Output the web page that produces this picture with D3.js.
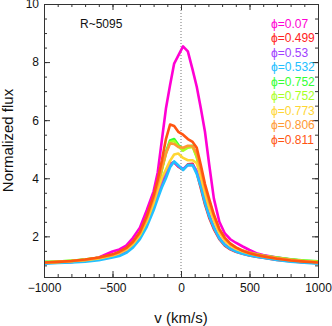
<!DOCTYPE html>
<html>
<head>
<meta charset="utf-8">
<script src="https://cdn.jsdelivr.net/npm/d3@7"></script>
<style>
  body { margin: 0; background: #fff; }
  svg { display: block; font-family: "Liberation Sans", Arial, sans-serif; }
</style>
</head>
<body>
<div id="chart"></div>
<script>
// velocity grid (km/s)
var velocity = [-1000, -900, -800, -700, -600, -500, -450, -400, -350, -300,
  -250, -200, -170, -140, -110, -80, -50, -20, 15, 50,
  85, 115, 145, 175, 205, 240, 280, 320, 360, 400,
  450, 500, 550, 600, 700, 800, 900, 1000];

// normalized flux per phase
var flux007 = [1.08, 1.10, 1.13, 1.18, 1.27, 1.48, 1.55, 1.68, 1.95, 2.30,
  2.90, 3.55, 4.20, 5.30, 6.40, 7.20, 7.95, 8.22, 8.54, 8.37,
  7.73, 7.15, 6.40, 5.60, 4.50, 3.30, 2.50, 2.10, 1.90, 1.78,
  1.65, 1.53, 1.42, 1.36, 1.27, 1.20, 1.15, 1.12];
var flux0499 = [1.08, 1.10, 1.12, 1.16, 1.21, 1.31, 1.38, 1.50, 1.70, 2.00,
  2.45, 3.05, 3.45, 3.85, 4.15, 4.50, 4.55, 4.40, 4.30, 4.48,
  4.50, 4.20, 3.65, 3.10, 2.65, 2.25, 1.90, 1.68, 1.55, 1.47,
  1.40, 1.34, 1.30, 1.26, 1.19, 1.14, 1.10, 1.08];
var flux053 = [1.08, 1.10, 1.12, 1.16, 1.22, 1.33, 1.40, 1.52, 1.72, 2.02,
  2.48, 3.08, 3.50, 3.90, 4.20, 4.48, 4.55, 4.42, 4.32, 4.45,
  4.46, 4.25, 3.80, 3.25, 2.75, 2.32, 1.95, 1.72, 1.58, 1.49,
  1.42, 1.36, 1.31, 1.27, 1.20, 1.15, 1.11, 1.08];
var flux0532 = [1.06, 1.08, 1.10, 1.13, 1.18, 1.27, 1.32, 1.43, 1.62, 1.90,
  2.33, 2.90, 3.30, 3.68, 4.00, 4.38, 4.58, 4.45, 4.28, 4.46,
  4.45, 4.15, 3.70, 3.15, 2.70, 2.30, 1.93, 1.70, 1.57, 1.48,
  1.40, 1.34, 1.30, 1.26, 1.19, 1.13, 1.09, 1.06];
var flux0752a = [1.12, 1.13, 1.16, 1.20, 1.26, 1.36, 1.44, 1.56, 1.76, 2.05,
  2.55, 3.20, 3.70, 4.30, 4.90, 5.30, 5.35, 5.15, 5.00, 5.10,
  5.12, 4.75, 4.20, 3.65, 3.15, 2.65, 2.20, 1.90, 1.72, 1.60,
  1.50, 1.43, 1.38, 1.33, 1.27, 1.21, 1.17, 1.14];
var flux0752b = [1.11, 1.13, 1.16, 1.20, 1.26, 1.36, 1.44, 1.56, 1.76, 2.06,
  2.56, 3.22, 3.70, 4.28, 4.85, 5.25, 5.28, 5.10, 4.95, 5.05,
  5.08, 4.72, 4.18, 3.62, 3.12, 2.62, 2.18, 1.90, 1.72, 1.60,
  1.50, 1.43, 1.38, 1.33, 1.26, 1.20, 1.16, 1.13];
var flux0773 = [1.09, 1.11, 1.14, 1.18, 1.24, 1.34, 1.42, 1.54, 1.74, 2.05,
  2.52, 3.15, 3.60, 4.00, 4.30, 4.60, 4.82, 4.85, 4.70, 4.62,
  4.62, 4.52, 4.05, 3.50, 3.00, 2.55, 2.12, 1.85, 1.68, 1.57,
  1.48, 1.41, 1.36, 1.31, 1.24, 1.18, 1.14, 1.11];
var flux0806 = [1.10, 1.12, 1.15, 1.19, 1.26, 1.36, 1.45, 1.58, 1.79, 2.10,
  2.62, 3.30, 3.80, 4.35, 4.85, 5.20, 5.18, 5.08, 5.05, 5.12,
  5.10, 4.85, 4.30, 3.70, 3.20, 2.70, 2.22, 1.93, 1.74, 1.62,
  1.51, 1.44, 1.38, 1.33, 1.25, 1.19, 1.14, 1.11];
var flux0811 = [1.10, 1.12, 1.15, 1.20, 1.27, 1.38, 1.47, 1.60, 1.82, 2.15,
  2.70, 3.40, 3.95, 4.60, 5.35, 5.85, 5.80, 5.60, 5.50, 5.35,
  5.25, 5.05, 4.45, 3.80, 3.30, 2.75, 2.25, 1.95, 1.75, 1.62,
  1.50, 1.42, 1.36, 1.31, 1.23, 1.17, 1.13, 1.10];

var phaseLabels = ["0.07", "0.499", "0.53", "0.532", "0.752", "0.752", "0.773", "0.806", "0.811"];
var phaseColors = ["#ff00d4", "#ff2222", "#a040ff", "#22c0ff", "#33ff33", "#a8ff22", "#ffd633", "#ff9933", "#ff5511"];
var seriesFlux = [flux007, flux0499, flux053, flux0532, flux0752a, flux0752b, flux0773, flux0806, flux0811];

var xTicks = [-1000, -500, 0, 500, 1000];
var yTicks = [2, 4, 6, 8, 10];

var W = 332, H = 326;
var margin = { top: 4, right: 14, bottom: 49, left: 44 };
var width = W - margin.left - margin.right,
  height = H - margin.top - margin.bottom;

var svg = d3.select("#chart").append("svg")
  .attr("width", W)
  .attr("height", H);

var g = svg.append("g")
  .attr("transform", "translate(" + margin.left + "," + margin.top + ")");

var x = d3.scaleLinear().domain([-1000, 1000]).range([0, width]);
var y = d3.scaleLinear().domain([0.6, 10]).range([height, 0]);

var minorX = d3.range(-1000, 1001, 100);
var minorY = d3.range(1, 10, 0.5);

g.append("clipPath").attr("id", "clip")
  .append("rect").attr("width", width).attr("height", height);

// dotted line at v = 0
g.append("line")
  .attr("x1", x(0)).attr("x2", x(0))
  .attr("y1", 0).attr("y2", height)
  .attr("stroke", "#777")
  .attr("stroke-width", 1)
  .attr("stroke-dasharray", "1,2");

var line = d3.line()
  .x(function (d, i) { return x(velocity[i]); })
  .y(function (d) { return y(d); });

g.append("g").attr("clip-path", "url(#clip)")
  .selectAll("path")
  .data(seriesFlux)
  .join("path")
  .attr("fill", "none")
  .attr("stroke", function (d, i) { return phaseColors[i]; })
  .attr("stroke-width", 2.6)
  .attr("stroke-linejoin", "round")
  .attr("d", line);

// axes, ticks pointing inward
function styleAxis(sel) {
  sel.select(".domain").attr("stroke", "#333");
  sel.selectAll(".tick line").attr("stroke", "#333");
  sel.selectAll("text").attr("fill", "#111").style("font-size", "12px");
}

g.append("g").attr("transform", "translate(0," + height + ")")
  .call(d3.axisBottom(x).tickValues(xTicks).tickSize(-6).tickPadding(6).tickFormat(d3.format("d")))
  .call(styleAxis);
g.append("g").attr("transform", "translate(0," + height + ")")
  .call(d3.axisBottom(x).tickValues(minorX).tickSize(-3).tickFormat(""))
  .call(styleAxis);
g.append("g")
  .call(d3.axisTop(x).tickValues(xTicks).tickSize(-6).tickFormat(""))
  .call(styleAxis);
g.append("g")
  .call(d3.axisTop(x).tickValues(minorX).tickSize(-3).tickFormat(""))
  .call(styleAxis);

g.append("g")
  .call(d3.axisLeft(y).tickValues(yTicks).tickSize(-6).tickPadding(5))
  .call(styleAxis);
g.append("g")
  .call(d3.axisLeft(y).tickValues(minorY).tickSize(-3).tickFormat(""))
  .call(styleAxis);
g.append("g").attr("transform", "translate(" + width + ",0)")
  .call(d3.axisRight(y).tickValues(yTicks).tickSize(-6).tickFormat(""))
  .call(styleAxis);
g.append("g").attr("transform", "translate(" + width + ",0)")
  .call(d3.axisRight(y).tickValues(minorY).tickSize(-3).tickFormat(""))
  .call(styleAxis);

// axis titles
svg.append("text")
  .attr("x", margin.left + x(0))
  .attr("y", 323)
  .attr("text-anchor", "middle")
  .style("font-size", "15px")
  .attr("fill", "#111")
  .text("v (km/s)");

svg.append("text")
  .attr("transform", "translate(13," + (margin.top + height / 2) + ") rotate(-90)")
  .attr("text-anchor", "middle")
  .style("font-size", "15px")
  .attr("fill", "#111")
  .text("Normalized flux");

g.append("text")
  .attr("x", 36)
  .attr("y", 24)
  .style("font-size", "12px")
  .attr("fill", "#111")
  .text("R~5095");

// legend
g.selectAll(".legend")
  .data(phaseLabels)
  .join("text")
  .attr("class", "legend")
  .attr("x", 227)
  .attr("y", function (d, i) { return 23.5 + i * 14.5; })
  .style("font-size", "12px")
  .attr("fill", function (d, i) { return phaseColors[i]; })
  .text(function (d) { return "\u03d5=" + d; });
</script>
</body>
</html>
